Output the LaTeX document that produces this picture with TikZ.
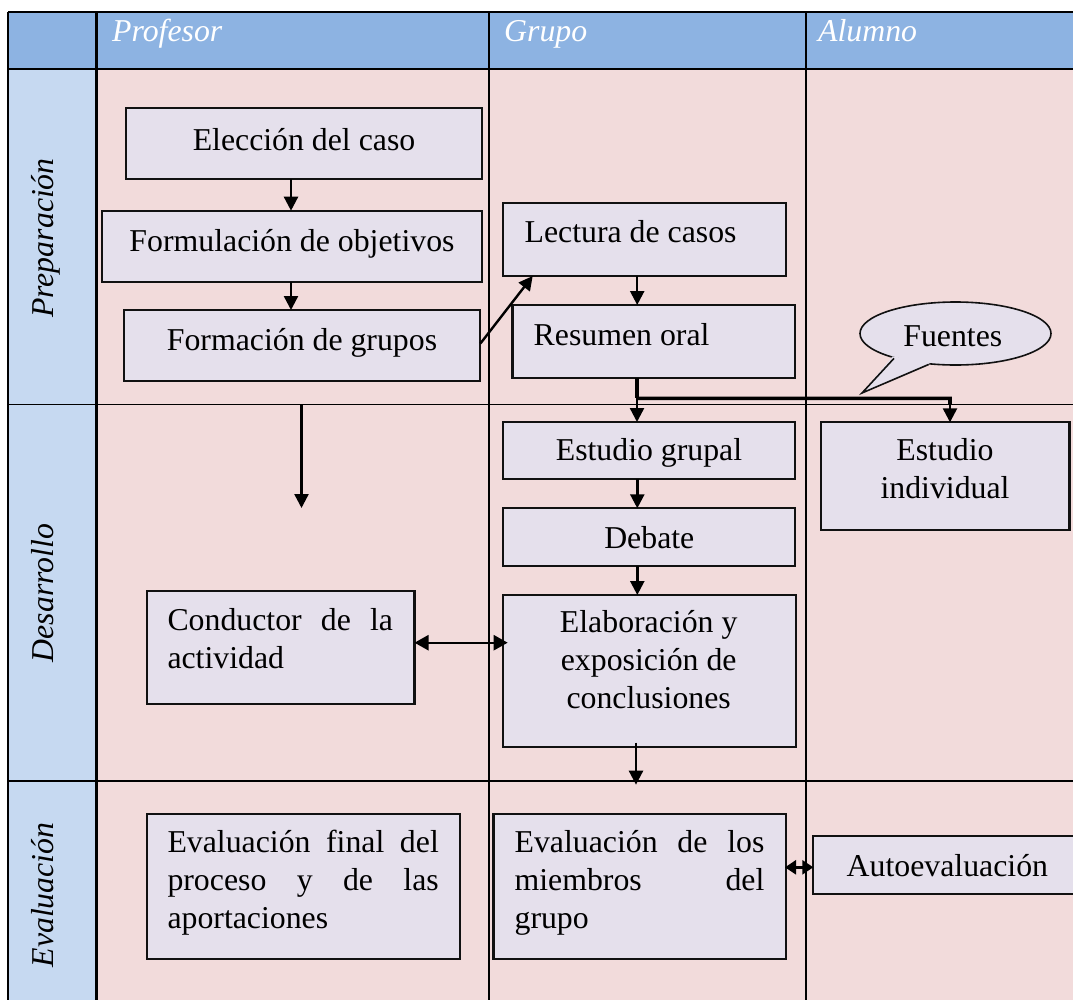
\documentclass[tikz,border=0pt]{standalone}
\usepackage{fontspec}
\setmainfont{Liberation Serif}
\usetikzlibrary{arrows.meta,calc,shapes.geometric}
\definecolor{hdr}{HTML}{8DB3E2}
\definecolor{lbl}{HTML}{C6D9F1}
\definecolor{cell}{HTML}{F2DBDB}
\definecolor{lav}{HTML}{E5E0EC}
\definecolor{edge}{HTML}{111111}
\newcommand{\mybox}[5]{\node[box,anchor=north west,minimum width={(#4)-(#2)},minimum height={(#5)-(#3)}] (#1) at (#2,#3) {};}
\begin{document}
\begin{tikzpicture}[x=1pt,y=-1pt,
  box/.style={draw=edge,fill=lav,line width=2.1pt,inner sep=0pt,outer sep=0pt},
  txt/.style={inner sep=0pt,outer sep=0pt,font=\fontsize{31.8}{37.8}\selectfont},
  hdrtxt/.style={inner sep=0pt,text=white,anchor=base west,font=\fontsize{31.8}{37.8}\selectfont\itshape},
  rowtxt/.style={inner sep=0pt,rotate=90,anchor=base,font=\fontsize{31.8}{37.8}\selectfont\itshape},
  arr/.style={line width=2.4pt,-{Triangle[length=14pt,width=14pt]}},
  thk/.style={line width=3.6pt},
  dbl/.style={line width=2.4pt,{Triangle[length=14pt,width=15pt]}-{Triangle[length=14pt,width=15pt]}},
  sdbl/.style={line width=2.4pt,{Triangle[length=11pt,width=14pt]}-{Triangle[length=11pt,width=14pt]}},
  grid/.style={line width=1.4pt,black},
  vgrid/.style={line width=2.1pt,black}]
\useasboundingbox (0,0) rectangle (1073,999);
\clip (0,0) rectangle (1073,999);
% table background
\fill[white] (0,0) rectangle (1073,999);
\fill[hdr] (8,12) rectangle (1090,69);
\fill[lbl] (8,69) rectangle (96,1010);
\fill[cell] (96,69) rectangle (1090,1010);
\draw[grid] (8,12) -- (1090,12);
\draw[grid] (8,69) -- (1090,69);
\draw[grid] (8,404.5) -- (1090,404.5);
\draw[grid] (8,781) -- (1090,781);
\draw[grid] (8,12) -- (8,1010);
\draw[vgrid] (96.5,12) -- (96.5,1010);
\draw[vgrid] (489,12) -- (489,1010);
\draw[vgrid] (806,12) -- (806,1010);
% headers
\node[hdrtxt] (hprof) at (112,41.7) {Profesor};
\node[hdrtxt] (hgrup) at (504,41.7) {Grupo};
\node[hdrtxt] (halum) at (818,41.7) {Alumno};
\node[rowtxt] (rprep) at (53.5,238) {Preparación};
\node[rowtxt] (rdes) at (53.5,593) {Desarrollo};
\node[rowtxt] (reval) at (53.5,895) {Evaluación};
% boxes
\mybox{b1}{126.4}{107.7}{482}{179.3}
\mybox{b2}{102}{210.7}{482}{282}
\mybox{b3}{124.3}{310}{480.4}{381}
\mybox{lect}{502.7}{202.7}{785.6}{276}
\mybox{res}{512.5}{305}{795}{378.3}
\mybox{eg}{503}{422}{795.3}{479.3}
\mybox{deb}{503}{508.3}{795.3}{566}
\mybox{elab}{503}{595}{795.6}{746.7}
\mybox{ei}{821}{422.3}{1069.5}{530}
\mybox{cond}{146.8}{590.7}{414.5}{704.3}
\mybox{evf}{146.8}{814.3}{460.4}{959.3}
\mybox{evm}{493.5}{814.3}{786}{959.3}
\mybox{auto}{813.3}{836}{1095}{894}
% callout
\node[ellipse,draw=edge,fill=lav,line width=1.6pt,minimum width=191pt,minimum height=63pt,inner sep=0pt] (fu) at (955.5,333.5) {};
\fill[lav] ($(fu.200)!2.5pt!(fu.center)$) -- (862,393) coordinate (futip) -- ($(fu.230)!2.5pt!(fu.center)$) -- cycle;
\draw[edge,line width=1.6pt,line join=miter] (fu.202) -- (futip) -- (fu.229);
% texts
\node[txt,anchor=base] (t1) at (304,150) {Elección del caso};
\node[txt,anchor=base] (t2) at (292,251.7) {Formulación de objetivos};
\node[txt,anchor=base] (t3) at (302,350.7) {Formación de grupos};
\node[txt,anchor=base west] (tl) at (524.6,242.7) {Lectura de casos};
\node[txt,anchor=base west] (tr) at (533.7,345.7) {Resumen oral};
\node[txt,anchor=base] (teg) at (649,460) {Estudio grupal};
\node[txt,anchor=base] (tdeb) at (649.3,548.3) {Debate};
\node[txt,anchor=base,align=center] (telab) at (648.7,708) {Elaboración y\\exposición de\\conclusiones};
\node[txt,anchor=base,align=center] (tei) at (945,498.3) {Estudio\\individual};
\node[txt,anchor=base west,align=left] (tcond) at (167.5,668) {\makebox[225.5pt][s]{Conductor de la}\\actividad};
\node[txt,anchor=base west,align=left] (tevf) at (167.5,928) {\makebox[271.3pt][s]{Evaluación final del}\\\makebox[271.3pt][s]{proceso y de las}\\aportaciones};
\node[txt,anchor=base west,align=left] (tevm) at (514.6,928) {\makebox[249.8pt][s]{Evaluación de los}\\\makebox[249.8pt][s]{miembros del}\\grupo};
\node[txt,anchor=base west] (tauto) at (846.7,876) {Autoevaluación};
\node[txt,anchor=base] (tfu) at (952.8,346.7) {Fuentes};
% connectors
\draw[arr] (b1.south -| b2.north) ++(-1,0) -- ($(b2.north)+(-1,0)$);
\draw[arr] ($(b2.south)+(-1,0)$) -- ($(b2.south |- b3.north)+(-1,0)$);
\draw[arr] (b3.east) ++(0,-2) -- ($(lect.south west)+(30,0)$);
\draw[arr] ($(lect.south west)+(134.5,0)$) -- ($(lect.south west |- res.north)+(134.5,0)$);
\coordinate (br1) at ($(res.south west)+(124.5,20)$);
\coordinate (br2) at ($(ei.north west)+(129,-24)$);
\draw[thk] ($(res.south west)+(124.5,0)$) -- (br1);
\draw[thk] (br1) -- (br2) -- ++(0,6);
\draw[arr] (br1) -- ($(res.south west |- eg.north)+(124.5,0)$);
\draw[arr] (br2) -- ($(ei.north west)+(129,0)$);
\coordinate (pa) at (301.5,404.5);
\coordinate (pb) at (301.5,508);
\draw[arr] (pa) -- (pb);
\draw[arr] ($(eg.south west)+(134.3,0)$) -- ($(deb.north west)+(134.3,0)$);
\draw[arr] ($(deb.south west)+(134.3,0)$) -- ($(elab.north west)+(134.3,0)$);
\coordinate (ea) at ($(elab.south west)+(133,-4)$);
\coordinate (eb) at ($(elab.south west)+(133,38)$);
\draw[arr] (ea) -- (eb);
\draw[dbl] ($(cond.east)+(0,-4.8)$) -- ($(elab.west |- cond.east)+(4.7,-4.8)$);
\draw[sdbl] ($(evm.east |- auto.west)+(-1,2.3)$) -- ($(auto.west)+(0,2.3)$);
\end{tikzpicture}
\end{document}
